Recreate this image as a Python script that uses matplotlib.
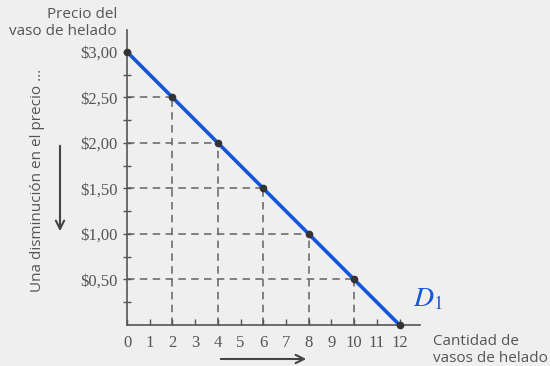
import matplotlib
matplotlib.use("Agg")
import matplotlib.pyplot as plt
from matplotlib.patches import FancyArrowPatch

quantity = [0, 2, 4, 6, 8, 10, 12]
price = [3.00, 2.50, 2.00, 1.50, 1.00, 0.50, 0.00]
x_ticks = list(range(0, 13))
y_ticks = [0.50, 1.00, 1.50, 2.00, 2.50, 3.00]
y_labels = ["$0,50", "$1,00", "$1,50", "$2,00", "$2,50", "$3,00"]

plt.rcParams["mathtext.fontset"] = "stix"

bg = "#efefef"
gray = "#555555"
blue = "#1256dc"

fig = plt.figure(figsize=(5.5, 3.66), dpi=100, facecolor=bg)
ax = fig.add_axes([127/550, 41/366, 293/550, 295/366])
ax.set_facecolor(bg)
ax.set_xlim(0, 12.9)
ax.set_ylim(0, 3.24)

for s in ["top", "right"]:
    ax.spines[s].set_visible(False)
for s in ["left", "bottom"]:
    ax.spines[s].set_color(gray)
    ax.spines[s].set_linewidth(1.2)

# dashed guides
for q, p in zip(quantity[1:-1], price[1:-1]):
    ax.plot([0, q], [p, p], ls=(0, (4.5, 3.2)), color="#6e6e6e", lw=1.2, zorder=1)
    ax.plot([q, q], [0, p], ls=(0, (4.5, 3.2)), color="#6e6e6e", lw=1.2, zorder=1)

ax.plot(quantity, price, color=blue, lw=2.6, zorder=2, clip_on=False)
ax.plot(quantity, price, 'o', color="#333333", ms=4.5, zorder=3, clip_on=False)

ax.set_xticks(x_ticks)
ax.set_xticklabels([str(t) for t in x_ticks], fontfamily="Liberation Serif", fontsize=12, color=gray)
ax.set_yticks(y_ticks)
ax.set_yticklabels(y_labels, fontfamily="Liberation Serif", fontsize=12, color=gray)
ax.set_yticks([0.25, 0.75, 1.25, 1.75, 2.25, 2.75], minor=True)
ax.tick_params(axis="x", direction="in", length=4, width=1, color=gray, pad=7)
ax.tick_params(axis="y", which="both", direction="inout", length=6, width=1, color=gray, pad=4)

ax.text(12.6, 0.2, "$D_{\\mathrm{1}}$", fontsize=20, color=blue)

fig.text(117/550, 1 - 23/366, "Precio del\nvaso de helado", ha="right", va="center",
         fontsize=11, color=gray, fontfamily="Open Sans", linespacing=1.15)
fig.text(433/550, 1 - 350/366, "Cantidad de\nvasos de helado", ha="left", va="center",
         fontsize=11, color=gray, fontfamily="Open Sans", linespacing=1.15)
fig.text(38/550, 1 - 180/366, "Una disminución en el precio ...", rotation=90,
         ha="center", va="center", fontsize=11, color=gray, fontfamily="Open Sans")

fig.patches.append(FancyArrowPatch((60/550, 1 - 143/366), (60/550, 1 - 234/366),
                                   transform=fig.transFigure, arrowstyle="->,head_width=3,head_length=6",
                                   color="#444444", lw=1.5, mutation_scale=1))
fig.patches.append(FancyArrowPatch((218/550, 1 - 359/366), (309/550, 1 - 359/366),
                                   transform=fig.transFigure, arrowstyle="->,head_width=3,head_length=6",
                                   color="#444444", lw=1.5, mutation_scale=1))

fig.savefig("out.png", dpi=100, facecolor=bg)
